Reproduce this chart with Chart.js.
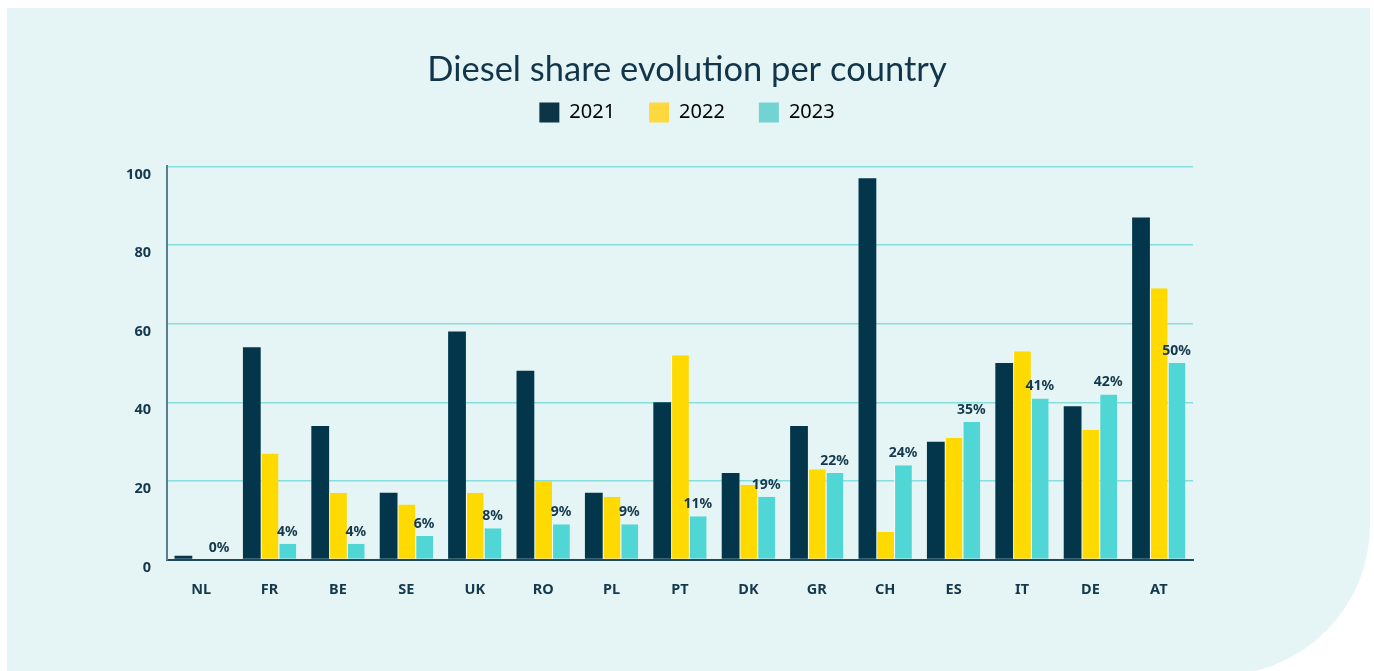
<!DOCTYPE html>
<html>
<head>
<meta charset="utf-8">
<script src="https://cdn.jsdelivr.net/npm/chart.js@4/dist/chart.umd.min.js"></script>
<style>
  html, body { margin: 0; padding: 0; background: #fff; }
  body { width: 1374px; height: 671px; position: relative; overflow: hidden; }
  #panel {
    position: absolute; left: 7px; top: 8px; width: 1363px; height: 667px;
    background: #e5f5f5; border-bottom-right-radius: 150px;
  }
  #wrap { position: absolute; left: 0; top: 0; width: 1374px; height: 671px; }
</style>
</head>
<body>
<div id="panel"></div>
<div id="wrap"><canvas id="chart"></canvas></div>
<script>
// Chart data
const countries = ['NL', 'FR', 'BE', 'SE', 'UK', 'RO', 'PL', 'PT', 'DK', 'GR', 'CH', 'ES', 'IT', 'DE', 'AT'];
const share2021 = [1, 54, 34, 17, 58, 48, 17, 40, 22, 34, 97, 30, 50, 39, 87];
const share2022 = [0, 27, 17, 14, 17, 20, 16, 52, 19, 23, 7, 31, 53, 33, 69];
const share2023 = [0, 4, 4, 6, 8, 9, 9, 11, 16, 22, 24, 35, 41, 42, 50];
const labels2023 = ['0%', '4%', '4%', '6%', '8%', '9%', '9%', '11%', '19%', '22%', '24%', '35%', '41%', '42%', '50%'];
const yTicks = [0, 20, 40, 60, 80, 100];

const ink = '#14384c';
const barColors = ['#03364b', '#ffda00', '#4fd6d5'];
const legendColors = ['#0e3448', '#ffd83f', '#72d3d2'];

// Draw the percentage labels above the 2023 bars
const valueLabels = {
    id: 'valueLabels',
    afterDatasetsDraw(chart) {
        const ctx = chart.ctx;
        const meta = chart.getDatasetMeta(2);
        ctx.save();
        ctx.font = 'bold 14px "Noto Sans"';
        ctx.fillStyle = ink;
        ctx.textAlign = 'center';
        ctx.textBaseline = 'middle';
        meta.data.forEach((bar, i) => {
            ctx.fillText(labels2023[i], bar.x, bar.y - 12);
        });
        ctx.restore();
    }
};

Chart.defaults.font.family = '"Noto Sans", sans-serif';
Chart.defaults.color = ink;

const ctx = document.getElementById('chart').getContext('2d');
new Chart(ctx, {
    type: 'bar',
    data: {
        labels: countries,
        datasets: [
            { label: '2021', data: share2021, backgroundColor: barColors[0], borderWidth: 0 },
            { label: '2022', data: share2022, backgroundColor: barColors[1], borderColor: '#ffffff', borderWidth: { left: 1, right: 0, top: 0, bottom: 0 }, borderSkipped: false },
            { label: '2023', data: share2023, backgroundColor: barColors[2], borderColor: '#ffffff', borderWidth: { left: 1, right: 0, top: 0, bottom: 0 }, borderSkipped: false }
        ]
    },
    options: {
        responsive: true,
        maintainAspectRatio: false,
        animation: false,
        categoryPercentage: 0.78,
        barPercentage: 1,
        layout: { padding: { left: 0, right: 0, top: 0, bottom: 50 } },
        plugins: {
            title: {
                display: true,
                text: 'Diesel share evolution per country',
                color: '#12354a',
                font: { family: 'Lato', size: 34.5, weight: 'normal' },
                padding: { top: 49, bottom: -22 }
            },
            legend: {
                labels: {
                    boxWidth: 20,
                    boxHeight: 20,
                    padding: 34,
                    color: '#12354a',
                    font: { size: 20 },
                    generateLabels(chart) {
                        return chart.data.datasets.map((ds, i) => ({
                            text: ds.label,
                            fillStyle: legendColors[i],
                            strokeStyle: legendColors[i],
                            lineWidth: 0,
                            datasetIndex: i
                        }));
                    }
                }
            },
            tooltip: { enabled: false }
        },
        scales: {
            x: {
                grid: { display: false, drawTicks: false },
                border: { color: '#21475a', width: 2 },
                ticks: { padding: 22, font: { size: 14.5, weight: 'bold' } }
            },
            top: {
                type: 'category',
                position: 'top',
                grid: { display: false, drawTicks: false },
                border: { display: false },
                ticks: { display: false },
                afterFit(scale) { scale.height = 34; }
            },
            y: {
                min: 0,
                max: 100,
                afterFit(scale) { scale.width = 167; },
                afterBuildTicks(scale) { scale.ticks = yTicks.map(v => ({ value: v })); },
                grid: { color: '#88dddd', lineWidth: 1.6, drawTicks: false },
                border: { color: '#5a7f8f', width: 2 },
                ticks: { padding: 16, labelOffset: 8, font: { size: 14.5, weight: 'bold' } }
            },
            right: {
                type: 'linear',
                position: 'right',
                grid: { display: false, drawTicks: false },
                border: { display: false },
                ticks: { display: false },
                afterFit(scale) { scale.width = 181; }
            }
        }
    },
    plugins: [valueLabels]
});
</script>
</body>
</html>
